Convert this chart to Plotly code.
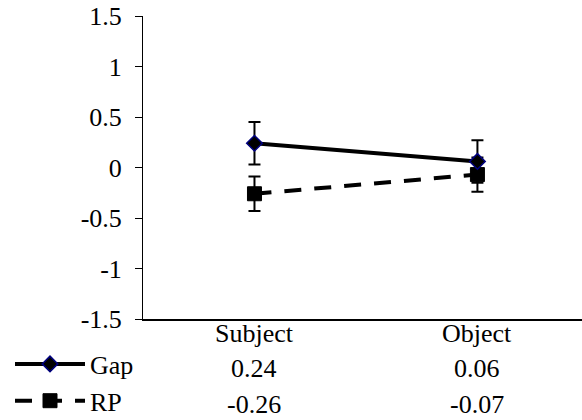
import plotly.graph_objects as go

# Data
categories = ["Subject", "Object"]
gap_values = [0.24, 0.06]
rp_values = [-0.26, -0.07]
gap_errors = [0.21, 0.21]
rp_errors = [0.17, 0.17]
y_ticks = [-1.5, -1, -0.5, 0, 0.5, 1, 1.5]
y_tick_labels = ["-1.5", "-1", "-0.5", "0", "0.5", "1", "1.5"]

FONT = "Liberation Serif"
FS = 26
W, H = 582, 420
L, R, T, B = 143, 0, 16, 101
plot_w = W - L - R
plot_h = H - T - B


def fmt(v):
    return f"{v:.2f}"


def row_y(px_below_axis):
    # paper y for a point given pixels below the x axis line
    return -px_below_axis / plot_h


fig = go.Figure()

# RP series (drawn first so Gap sits on top)
fig.add_trace(go.Scatter(
    x=categories, y=rp_values, name="RP", mode="lines+markers",
    legendgroup="rp", legendrank=2,
    line=dict(color="black", width=4, dash="17px,13px"),
    marker=dict(symbol="square", size=14, color="black",
                line=dict(color="black", width=1)),
    error_y=dict(type="data", array=rp_errors, color="black",
                 thickness=2, width=6),
))

# Gap series
fig.add_trace(go.Scatter(
    x=categories, y=gap_values, name="Gap", mode="lines+markers",
    legendgroup="gap", legendrank=1,
    line=dict(color="black", width=4),
    marker=dict(symbol="diamond", size=12, color="black",
                line=dict(color="#000080", width=1.5)),
    error_y=dict(type="data", array=gap_errors, color="black",
                 thickness=2, width=6),
))

# Data table under the axis: category header row, then one row per series
text_font = dict(family=FONT, size=FS, color="black")
annotations = []
for cat, g, r in zip(categories, gap_values, rp_values):
    annotations.append(dict(x=cat, xref="x", y=row_y(14.5), yref="paper",
                            text=cat, showarrow=False, yanchor="middle",
                            font=text_font))
    annotations.append(dict(x=cat, xref="x", y=row_y(49.5), yref="paper",
                            text=fmt(g), showarrow=False, yanchor="middle",
                            font=text_font))
    annotations.append(dict(x=cat, xref="x", y=row_y(85), yref="paper",
                            text=fmt(r), showarrow=False, yanchor="middle",
                            font=text_font))

fig.update_layout(
    width=W, height=H,
    margin=dict(l=L, r=R, t=T, b=B, autoexpand=False),
    paper_bgcolor="white", plot_bgcolor="white",
    font=text_font,
    showlegend=True,
    legend=dict(x=-(L - 10) / plot_w, xanchor="left", y=row_y(21.5),
                yanchor="top", font=text_font,
                itemwidth=70, tracegroupgap=0, bgcolor="rgba(0,0,0,0)",
                borderwidth=0),
    annotations=annotations,
    xaxis=dict(range=[-0.5, 1.469], showline=True, linecolor="black",
               linewidth=1.5, ticks="", showticklabels=False,
               showgrid=False, zeroline=False),
    yaxis=dict(range=[-1.5, 1.5], tickvals=y_ticks, ticktext=y_tick_labels,
               showline=True, linecolor="black", linewidth=1,
               ticks="outside", ticklen=7, tickwidth=1, tickcolor="black",
               showgrid=False, zeroline=False, ticklabelstandoff=8,
               tickfont=text_font),
)

fig.write_html("out.html")
